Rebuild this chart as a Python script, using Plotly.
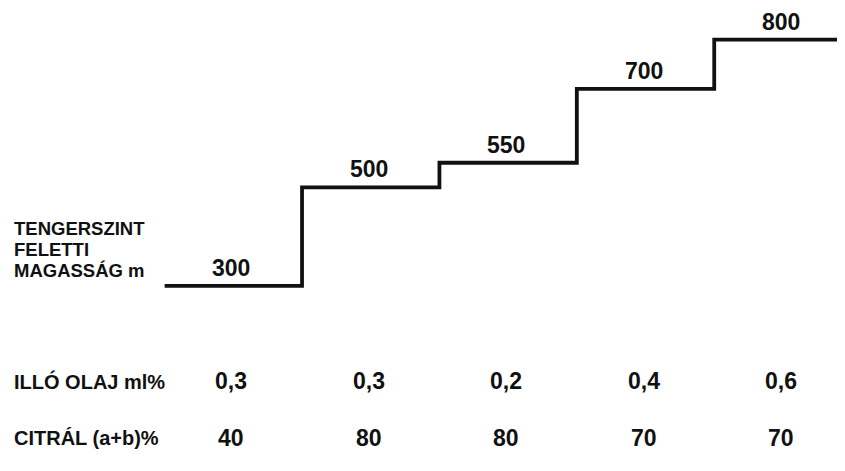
import plotly.graph_objects as go

# ---- data ----
altitudes = [300, 500, 550, 700, 800]          # tengerszint feletti magasság, m
oil = [0.3, 0.3, 0.2, 0.4, 0.6]                # illó olaj ml%
citral = [40, 80, 80, 70, 70]                  # citrál (a+b) %
title_lines = ["TENGERSZINT", "FELETTI", "MAGASSÁG m"]
row_labels = ["ILLÓ OLAJ ml%", "CITRÁL (a+b)%"]

W, H = 845, 471
INK = "#111111"
FONT = "Liberation Sans, Arial, sans-serif"

# step boundaries 0..5
xs = list(range(len(altitudes) + 1))
ys = altitudes + [altitudes[-1]]

fig = go.Figure()
fig.add_trace(go.Scatter(
    x=xs, y=ys, mode="lines", line_shape="hv",
    line=dict(color=INK, width=3.8), hoverinfo="skip", showlegend=False,
))

ann = []
# value labels above each step
for i, v in enumerate(altitudes):
    ann.append(dict(x=i + 0.5, y=v, xref="x", yref="y", text=str(v),
                    showarrow=False, xshift=-2, yshift=18,
                    font=dict(family=FONT, size=23, color=INK, weight="bold")))

def py(p):
    return 1 - p / H

# left title
for line, p in zip(title_lines, [220, 241, 262]):
    ann.append(dict(x=4 / W, y=py(p), xref="paper", yref="paper", text=line,
                    showarrow=False, xanchor="left", yanchor="middle",
                    font=dict(family=FONT, size=18.5, color=INK, weight="bold")))

# table rows
rows = [[f"{v:.1f}".replace(".", ",") for v in oil], [str(v) for v in citral]]
for lab, vals, p in zip(row_labels, rows, [373, 430]):
    ann.append(dict(x=4 / W, y=py(p), xref="paper", yref="paper", text=lab,
                    showarrow=False, xanchor="left", yanchor="middle",
                    font=dict(family=FONT, size=20, color=INK, weight="bold")))
    for i, t in enumerate(vals):
        ann.append(dict(x=i + 0.5, y=py(p), xref="x", yref="paper", text=t,
                        showarrow=False, xshift=-2, yanchor="middle",
                        font=dict(family=FONT, size=23, color=INK, weight="bold")))

fig.update_layout(
    width=W, height=H, margin=dict(l=0, r=0, t=0, b=0),
    paper_bgcolor="white", plot_bgcolor="white",
    xaxis=dict(range=[-1.140, 5.010], visible=False, fixedrange=True),
    yaxis=dict(range=[-91.7, 864.0], visible=False, fixedrange=True),
    annotations=ann, showlegend=False,
)
fig.write_html("out.html")
